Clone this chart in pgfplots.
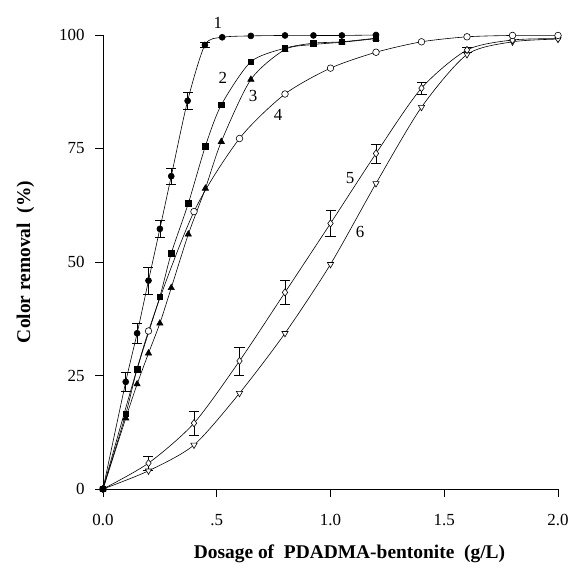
\documentclass[border=0pt]{standalone}
\usepackage{pgfplots}
\pgfplotsset{compat=1.18}
\usepackage{fontspec}
\setmainfont{Liberation Serif}
\begin{document}
\begin{tikzpicture}
\begin{axis}[
    name=ax,
    scale only axis,
    width=455bp, height=454bp,
    xmin=0, xmax=2, ymin=0, ymax=100,
    axis line style={draw=none},
    xtick pos=bottom, ytick pos=left,
    tick align=outside,
    major tick length=8bp,
    tick style={draw=black, line width=0.8pt},
    xtick={0,0.5,1,1.5,2},
    xticklabels={0.0,.5,1.0,1.5,2.0},
    ytick={0,25,50,75,100},
    /pgf/number format/assume math mode=true,
    tick label style={font=\fontsize{17}{19}\selectfont},
    xticklabel style={yshift=-14bp},
    yticklabel style={xshift=-7bp},
    xlabel={\textbf{Dosage of\ \ PDADMA-bentonite\ \ (g/L)}},
    ylabel={\textbf{Color removal\ \ (\%)}},
    label style={font=\fontsize{19.5}{22}\selectfont},
    xlabel style={yshift=-12bp, xshift=19bp},
    ylabel style={yshift=18bp},
    clip=false,
    error bars/error bar style={line width=0.6pt, solid},
    error bars/error mark options={rotate=90, mark size=5bp, line width=0.6pt, solid},
]
\draw[black, line width=0.9pt] (rel axis cs:0,1) -- (rel axis cs:0,0) -- (rel axis cs:1,0);
% series 6
\addplot[black, solid, line width=0.6pt, smooth, tension=0.45,
    mark=triangle*, mark size=3.6bp, mark options={rotate=180, fill=white, solid}]
coordinates {(0,0) (0.2,4.0) (0.4,9.7) (0.6,21.1) (0.8,34.3) (1.0,49.5) (1.2,67.3) (1.4,84.1) (1.6,95.7) (1.8,98.5) (2.0,99.1)};
% series 5
\addplot[black, solid, line width=0.6pt, smooth, tension=0.45,
    mark=diamond*, mark size=3.6bp, mark options={fill=white, solid},
    error bars/.cd, y dir=both, y explicit]
coordinates {(0,0) (0.2,5.7) +- (0,1.5) (0.4,14.5) +- (0,2.6) (0.6,28.2) +- (0,3.1) (0.8,43.3) +- (0,2.6) (1.0,58.5) +- (0,2.9) (1.2,73.9) +- (0,2.1) (1.4,88.3) +- (0,1.3) (1.6,96.7) +- (0,0.6) (1.8,98.9) (2.0,99.2)};
% series 4
\addplot[black, solid, line width=0.6pt, smooth, tension=0.45,
    mark=*, mark size=3.3bp, mark options={fill=white, solid}]
coordinates {(0,0) (0.2,34.8) (0.4,61.1) (0.6,77.2) (0.8,87.0) (1.0,92.7) (1.2,96.2) (1.4,98.5) (1.6,99.6) (1.8,99.9) (2.0,99.9)};
% series 3
\addplot[black, solid, line width=0.6pt, smooth, tension=0.45,
    mark=triangle*, mark size=3.6bp, mark options={fill=black, solid}]
coordinates {(0,0) (0.1,15.6) (0.15,23.1) (0.2,29.9) (0.25,36.5) (0.3,44.3) (0.375,56.1) (0.45,66.2) (0.52,76.5) (0.65,90.2) (0.8,96.8) (0.925,97.9) (1.05,98.4) (1.2,99.2)};
% series 2
\addplot[black, solid, line width=0.6pt, smooth, tension=0.45,
    mark=square*, mark size=2.7bp, mark options={fill=black, solid}]
coordinates {(0,0) (0.1,16.5) (0.15,26.4) (0.25,42.4) (0.3,51.9) (0.375,62.9) (0.45,75.5) (0.52,84.6) (0.65,94.1) (0.8,97.1) (0.925,98.2) (1.05,98.5) (1.2,99.3)};
% series 1
\addplot[black, solid, line width=0.6pt, smooth, tension=0.45,
    mark=*, mark size=3bp, mark options={fill=black, solid},
    error bars/.cd, y dir=both, y explicit]
coordinates {(0,0) (0.1,23.6) +- (0,2.0) (0.15,34.3) +- (0,2.3) (0.2,45.9) +- (0,3.0) (0.25,57.3) +- (0,1.9) (0.3,68.9) +- (0,1.8) (0.372,85.5) +- (0,1.8) (0.448,97.8) +- (0,0.6) (0.524,99.5) (0.65,99.8) (0.8,99.9) (0.925,99.9) (1.05,99.9) (1.2,100)};
\node[font=\fontsize{17}{19}\selectfont] at (axis cs:0.505,102.6) {1};
\node[font=\fontsize{17}{19}\selectfont] at (axis cs:0.527,90.5) {2};
\node[font=\fontsize{17}{19}\selectfont] at (axis cs:0.66,86.6) {3};
\node[font=\fontsize{17}{19}\selectfont] at (axis cs:0.77,82.4) {4};
\node[font=\fontsize{17}{19}\selectfont] at (axis cs:1.086,68.5) {5};
\node[font=\fontsize{17}{19}\selectfont] at (axis cs:1.13,56.6) {6};
\end{axis}
\pgfresetboundingbox
\path[use as bounding box] ([shift={(-103bp,-86bp)}]ax.south west) rectangle ([shift={(12bp,35bp)}]ax.north east);
\end{tikzpicture}
\end{document}
